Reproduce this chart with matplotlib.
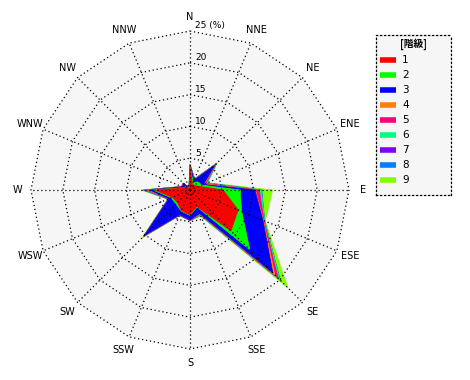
import numpy as np
import matplotlib
matplotlib.use('Agg')
import matplotlib.pyplot as plt

directions = ['N', 'NNE', 'NE', 'ENE', 'E', 'ESE', 'SE', 'SSE',
              'S', 'SSW', 'SW', 'WSW', 'W', 'WNW', 'NW', 'NNW']
classes = ['1', '2', '3', '4', '5', '6', '7', '8', '9']
colors = ['#ff0000', '#00ff00', '#0000ff', '#ff8000', '#ff0080',
          '#00ff80', '#8000ff', '#0080ff', '#80ff00']

# frequency (%) of each class per direction, N clockwise
class1 = [3.6, 1.0, 1.0, 1.5, 5.2, 8.2, 9.1, 2.8, 3.9, 3.5, 2.8, 3.0, 5.5, 0.9, 0.6, 0.3]
class2 = [0.2, 0.3, 0.8, 0.5, 2.7, 0.6, 4.2, 0.1, 0.1, 0.1, 0.3, 0.2, 0.3, 0.1, 0.2, 0.0]
class3 = [0.1, 0.4, 3.7, 0.3, 2.3, 3.6, 5.1, 1.1, 0.7, 0.6, 7.0, 0.4, 0.5, 0.3, 0.6, 0.1]
class4 = [0.0, 0.1, 0.2, 0.2, 0.1, 0.1, 0.5, 0.1, 0.0, 0.0, 0.1, 0.0, 0.3, 0.0, 0.0, 0.0]
class5 = [0.1, 0.0, 0.1, 0.2, 0.6, 0.1, 0.7, 0.1, 0.1, 0.1, 0.1, 0.1, 0.3, 0.1, 0.1, 0.0]
class6 = [0.0, 0.1, 0.1, 0.2, 0.3, 0.1, 0.4, 0.1, 0.0, 0.0, 0.1, 0.0, 0.2, 0.0, 0.0, 0.0]
class7 = [0.0, 0.0, 0.0, 0.0, 0.0, 0.0, 0.0, 0.0, 0.0, 0.0, 0.0, 0.0, 0.1, 0.0, 0.0, 0.0]
class8 = [0.0, 0.0, 0.0, 0.0, 0.1, 0.0, 0.1, 0.0, 0.0, 0.0, 0.0, 0.0, 0.2, 0.0, 0.0, 0.0]
class9 = [0.1, 0.0, 0.2, 0.1, 1.7, 0.1, 1.7, 0.2, 0.0, 0.1, 0.3, 0.1, 0.3, 0.1, 0.1, 0.1]

rings = [5, 10, 15, 20, 25]
ring_labels = ['5', '10', '15', '20', '25 (%)']

data = np.array([class1, class2, class3, class4, class5,
                 class6, class7, class8, class9])
cum = np.cumsum(data, axis=0)

theta = np.arange(len(directions)) * 2 * np.pi / len(directions)


def to_xy(r):
    r = np.asarray(r, dtype=float)
    return r * np.sin(theta), r * np.cos(theta)


scale = 159 / 25.0  # pixels per %
W, H = 470, 380
cx, cy = 190, 190

fig = plt.figure(figsize=(W / 100, H / 100), dpi=100)
ax = fig.add_axes([0, 0, 1, 1])
ax.set_xlim(-cx / scale, (W - cx) / scale)
ax.set_ylim(-(H - cy) / scale, cy / scale)
ax.set_aspect('equal')
ax.axis('off')

# background of the plot area
bx, by = to_xy(np.full(16, rings[-1]))
ax.fill(bx, by, color='#f6f6f6', zorder=0, lw=0)

# stacked classes, outermost first
for k in range(len(classes) - 1, -1, -1):
    x, y = to_xy(cum[k])
    ax.fill(x, y, color=colors[k], lw=0.5, ec=colors[k], zorder=1)

# grid
dots = dict(color='black', lw=0.9, ls=(0, (1, 2.2)), zorder=3)
for r in rings:
    gx, gy = to_xy(np.full(16, r))
    ax.plot(np.append(gx, gx[0]), np.append(gy, gy[0]), **dots)
for t in theta:
    ax.plot([0, rings[-1] * np.sin(t)], [0, rings[-1] * np.cos(t)], **dots)

for r, lab in zip(rings, ring_labels):
    ax.text(0.8, r + 0.1, lab, fontsize=6.5, ha='left', va='bottom', zorder=4)

lab_r = 27.2
for t, d in zip(theta, directions):
    ax.text(lab_r * np.sin(t), lab_r * np.cos(t), d, fontsize=7,
            ha='center', va='center')

# legend
lx0, ly0, lw_, lh_ = 376, 35, 75, 160
lax = fig.add_axes([lx0 / W, 1 - (ly0 + lh_) / H, lw_ / W, lh_ / H])
lax.set_xlim(0, lw_)
lax.set_ylim(lh_, 0)
lax.set_xticks([])
lax.set_yticks([])
lax.set_facecolor('#f6f6f6')
for s in lax.spines.values():
    s.set_linestyle((0, (1, 2.2)))
    s.set_linewidth(0.9)
lax.text(lw_ / 2, 9, '[階級]', ha='center', va='center', fontsize=7,
         fontweight='bold', family=['Noto Sans CJK JP', 'DejaVu Sans'])
for i, (c, lab) in enumerate(zip(colors, classes)):
    yy = 25 + i * 15
    lax.plot([4, 20], [yy, yy], color=c, lw=4, solid_capstyle='butt')
    lax.text(26, yy, lab, fontsize=7.5, ha='left', va='center')

fig.savefig('out.png', dpi=100)
